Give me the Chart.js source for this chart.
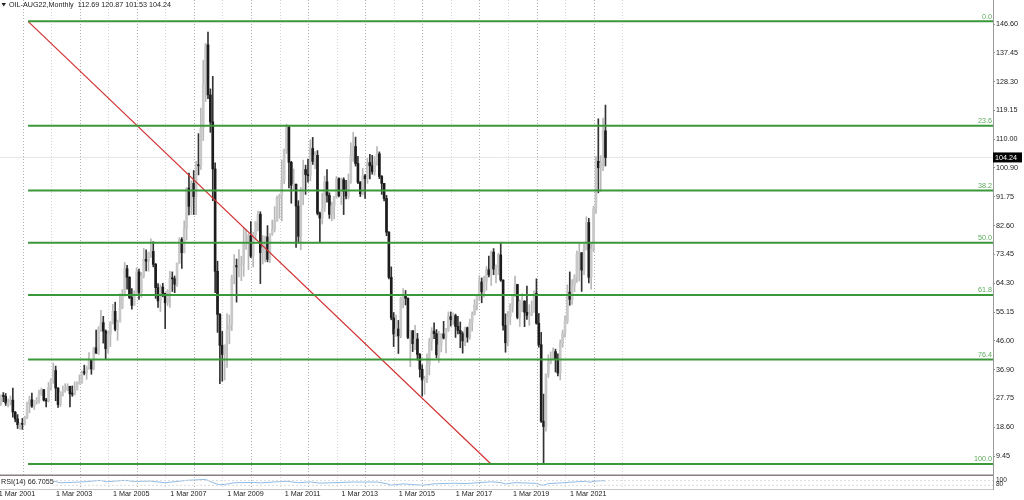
<!DOCTYPE html>
<html>
<head>
<meta charset="utf-8">
<title>OIL-AUG22, Monthly</title>
<script src="https://cdn.jsdelivr.net/npm/chart.js@4.4.1/dist/chart.umd.min.js"></script>
<style>
  html, body { margin: 0; padding: 0; background: #ffffff; }
  #wrap { position: relative; width: 1024px; height: 500px; }
</style>
</head>
<body>
<div id="wrap"><canvas id="oilChart" width="1024" height="500"></canvas></div>
<script>
// Monthly bars, first bar = Apr 2001, last bar = Jun 2022
var opens = [
  26.3, 28.5, 28.4, 26.3, 26.4, 27.2, 23.4, 21.2, 19.4,                       // 2001
  19.8, 19.5, 21.7, 26.3, 27.3, 25.3, 26.9, 27.0, 29.0, 30.5, 27.2, 26.9,       // 2002
  31.2, 33.5, 36.6, 31.0, 25.8, 29.6, 30.2, 30.5, 31.6, 29.2, 29.1, 30.4,       // 2003
  32.5, 33.1, 36.2, 35.8, 37.4, 39.9, 37.1, 43.8, 42.1, 49.6, 51.8, 49.1,       // 2004
  43.5, 48.2, 51.8, 55.4, 49.7, 52.0, 56.5, 60.6, 68.9, 66.2, 59.8, 57.3,       // 2005
  61.0, 67.9, 61.4, 66.6, 71.9, 71.3, 73.9, 74.4, 70.3, 62.9, 58.7, 63.1,       // 2006
  61.1, 58.1, 61.8, 65.9, 65.7, 64.0, 70.7, 78.2, 74.0, 81.7, 94.5, 88.7,       // 2007
  96.0, 91.8, 101.8, 101.6, 113.5, 127.4, 140.0, 124.1, 115.5, 100.6, 68.1, 54.4, // 2008
  44.6, 41.7, 44.8, 49.7, 51.1, 66.3, 69.9, 69.5, 70.0, 70.6, 77.0, 77.3,       // 2009
  79.4, 72.9, 79.7, 83.8, 86.2, 74.0, 75.6, 79.0, 71.9, 80.0, 81.4, 84.1,       // 2010
  91.4, 92.2, 97.0, 106.7, 113.9, 102.7, 95.4, 95.7, 88.8, 79.2, 93.2, 100.4,   // 2011
  98.8, 98.5, 107.1, 103.0, 104.9, 86.5, 85.0, 88.1, 96.5, 92.2, 86.2, 88.9,    // 2012
  91.8, 97.5, 92.1, 97.2, 93.5, 92.0, 96.6, 105.0, 107.7, 102.3, 96.4, 92.7,    // 2013
  98.4, 97.5, 102.6, 101.6, 99.7, 102.7, 105.4, 98.2, 96.0, 91.2, 80.5, 66.2,   // 2014
  53.3, 48.2, 49.8, 47.6, 59.6, 60.3, 59.5, 47.1, 49.2, 45.1, 46.6, 41.7,       // 2015
  37.0, 33.6, 33.8, 38.3, 45.9, 49.1, 48.3, 41.6, 44.7, 48.2, 46.9, 49.4,       // 2016
  53.7, 52.8, 54.0, 50.6, 49.3, 48.3, 46.0, 50.2, 47.2, 51.7, 54.4, 57.4,       // 2017
  60.4, 64.7, 61.6, 64.9, 68.6, 67.0, 74.2, 68.8, 69.8, 73.3, 65.3, 50.9,       // 2018
  45.4, 53.8, 57.2, 60.1, 63.9, 53.5, 58.5, 58.6, 55.1, 54.1, 54.2, 55.2,       // 2019
  61.1, 51.6, 44.8, 20.5, 18.8, 35.5, 39.3, 40.3, 42.6, 40.2, 35.8, 45.3,       // 2020
  48.5, 52.2, 61.5, 59.2, 63.6, 66.3, 73.5, 74.0, 68.5, 75.0, 83.6, 66.2,       // 2021
  75.2, 88.0, 103.0, 101.0, 110.0, 112.69                                      // 2022
];
var highs = [
  28.9, 29.6, 29.3, 27.6, 28.5, 31.0, 23.6, 22.6, 20.0,
  21.4, 22.1, 26.6, 28.4, 29.4, 27.0, 28.0, 30.4, 31.0, 30.6, 27.8, 32.8,
  34.0, 39.0, 38.0, 31.2, 29.8, 31.7, 32.4, 32.4, 31.6, 31.7, 33.0, 33.0,
  35.2, 36.5, 38.3, 38.0, 42.3, 40.0, 44.0, 49.4, 50.5, 55.7, 53.8, 49.5,
  49.1, 52.1, 57.6, 58.3, 52.6, 60.9, 62.3, 70.9, 70.0, 66.4, 62.6, 61.9,
  69.2, 68.8, 67.7, 75.4, 74.9, 74.2, 78.4, 77.5, 70.6, 64.2, 63.8, 64.3,
  61.2, 62.3, 68.1, 67.9, 66.6, 70.7, 78.8, 78.8, 84.1, 94.7, 99.3, 96.8,
  100.1, 103.0, 111.8, 119.9, 135.1, 140.4, 144.0, 126.0, 130.0, 102.5, 71.3, 54.7,
  49.0, 43.8, 54.7, 54.2, 66.9, 73.4, 72.0, 75.0, 72.9, 82.0, 81.5, 80.0,
  83.9, 80.5, 83.9, 87.2, 87.0, 79.4, 79.3, 82.6, 80.0, 84.4, 88.6, 92.0,
  92.6, 103.4, 106.9, 114.8, 114.2, 103.0, 100.6, 95.9, 90.5, 94.7, 103.4, 101.8,
  103.7, 109.8, 110.6, 106.1, 106.4, 86.9, 92.9, 98.3, 100.4, 93.0, 90.1, 91.9,
  98.2, 97.8, 97.7, 97.8, 97.0, 99.0, 108.9, 112.2, 110.7, 104.6, 96.6, 100.8,
  98.9, 104.0, 105.2, 104.9, 104.5, 107.7, 106.0, 98.5, 96.0, 92.2, 80.7, 69.5,
  55.0, 54.2, 52.5, 59.9, 62.6, 62.0, 59.7, 49.3, 49.3, 50.9, 48.4, 42.0,
  38.4, 34.8, 41.9, 46.8, 50.2, 51.7, 49.6, 49.0, 48.4, 52.2, 50.0, 55.2,
  55.2, 54.9, 54.5, 53.8, 52.0, 48.9, 50.4, 50.4, 52.9, 55.2, 59.1, 60.5,
  66.7, 66.0, 66.6, 69.6, 72.9, 74.5, 75.3, 70.1, 73.8, 76.9, 65.4, 54.6,
  55.4, 57.8, 60.7, 66.6, 64.0, 59.0, 60.9, 58.8, 63.4, 57.5, 58.7, 61.9,
  65.7, 54.7, 48.7, 29.1, 35.5, 41.6, 42.5, 43.8, 43.4, 41.9, 46.3, 49.4,
  53.9, 63.8, 67.9, 65.5, 67.0, 74.5, 76.9, 74.0, 76.7, 85.4, 84.9, 76.9,
  88.8, 104.5, 116.5, 104.8, 116.7, 120.87
];
var lows = [
  25.5, 26.7, 25.5, 25.0, 25.6, 21.8, 20.3, 18.2, 17.9,
  17.9, 19.3, 21.3, 23.2, 24.9, 24.2, 25.9, 26.2, 28.7, 26.9, 25.0, 26.6,
  30.4, 32.5, 27.0, 24.9, 25.2, 28.5, 29.7, 30.2, 25.0, 28.4, 28.8, 30.4,
  32.2, 32.5, 35.2, 33.8, 37.0, 35.4, 36.8, 42.0, 41.6, 49.0, 45.3, 40.3,
  42.1, 44.2, 51.4, 49.2, 46.2, 52.0, 56.2, 60.2, 62.4, 59.4, 56.1, 57.3,
  61.0, 59.2, 59.8, 66.0, 68.2, 68.1, 72.5, 69.5, 59.5, 56.6, 55.3, 60.0,
  49.9, 57.2, 56.6, 61.7, 61.3, 63.3, 70.6, 69.0, 73.9, 78.0, 86.0, 86.1,
  86.1, 86.1, 98.7, 100.4, 109.6, 122.0, 122.9, 112.2, 90.5, 61.3, 48.7, 32.4,
  33.2, 33.6, 37.6, 45.1, 49.3, 64.1, 58.3, 66.3, 65.1, 66.5, 75.0, 68.6,
  72.4, 69.5, 78.0, 80.9, 64.2, 70.4, 71.1, 71.1, 70.8, 79.5, 80.6, 83.9,
  84.9, 84.1, 95.9, 105.5, 94.6, 89.7, 93.9, 75.7, 77.1, 74.9, 89.2, 92.5,
  96.4, 96.8, 102.0, 100.7, 86.0, 77.3, 83.1, 87.1, 90.0, 84.9, 84.1, 84.7,
  91.3, 91.7, 89.3, 86.1, 91.1, 91.1, 96.0, 103.0, 101.5, 95.9, 91.8, 92.3,
  91.2, 96.0, 97.4, 98.9, 98.6, 101.8, 97.5, 92.5, 90.4, 79.4, 65.7, 52.7,
  44.2, 47.4, 42.0, 47.0, 56.5, 57.4, 46.7, 37.8, 42.6, 43.2, 39.9, 34.5,
  28.5, 29.0, 32.7, 35.2, 43.0, 46.7, 40.6, 39.2, 42.5, 46.6, 42.2, 49.0,
  50.7, 51.2, 47.1, 48.2, 43.8, 42.1, 44.5, 45.6, 46.5, 49.1, 54.2, 55.8,
  59.1, 58.1, 59.9, 62.1, 66.3, 63.6, 67.0, 64.4, 67.0, 64.9, 49.4, 42.4,
  44.4, 51.2, 55.1, 60.0, 53.0, 50.6, 55.3, 50.5, 52.8, 50.9, 54.0, 55.0,
  51.3, 44.0, 20.1, 6.9, 17.3, 34.4, 38.7, 40.0, 36.1, 34.9, 33.6, 44.0,
  47.2, 51.5, 57.3, 57.6, 61.6, 64.6, 65.0, 61.7, 67.0, 74.9, 64.4, 62.4,
  74.3, 86.5, 93.0, 93.5, 100.0, 101.53
];
var closes = [
  28.5, 28.4, 26.3, 26.4, 27.2, 23.4, 21.2, 19.4, 19.8,
  19.5, 21.7, 26.3, 27.3, 25.3, 26.9, 27.0, 29.0, 30.5, 27.2, 26.9, 31.2,
  33.5, 36.6, 31.0, 25.8, 29.6, 30.2, 30.5, 31.6, 29.2, 29.1, 30.4, 32.5,
  33.1, 36.2, 35.8, 37.4, 39.9, 37.1, 43.8, 42.1, 49.6, 51.8, 49.1, 43.5,
  48.2, 51.8, 55.4, 49.7, 52.0, 56.5, 60.6, 68.9, 66.2, 59.8, 57.3, 61.0,
  67.9, 61.4, 66.6, 71.9, 71.3, 73.9, 74.4, 70.3, 62.9, 58.7, 63.1, 61.1,
  58.1, 61.8, 65.9, 65.7, 64.0, 70.7, 78.2, 74.0, 81.7, 94.5, 88.7, 96.0,
  91.8, 101.8, 101.6, 113.5, 127.4, 140.0, 124.1, 115.5, 100.6, 68.1, 54.4, 44.6,
  41.7, 44.8, 49.7, 51.1, 66.3, 69.9, 69.5, 70.0, 70.6, 77.0, 77.3, 79.4,
  72.9, 79.7, 83.8, 86.2, 74.0, 75.6, 79.0, 71.9, 80.0, 81.4, 84.1, 91.4,
  92.2, 97.0, 106.7, 113.9, 102.7, 95.4, 95.7, 88.8, 79.2, 93.2, 100.4, 98.8,
  98.5, 107.1, 103.0, 104.9, 86.5, 85.0, 88.1, 96.5, 92.2, 86.2, 88.9, 91.8,
  97.5, 92.1, 97.2, 93.5, 92.0, 96.6, 105.0, 107.7, 102.3, 96.4, 92.7, 98.4,
  97.5, 102.6, 101.6, 99.7, 102.7, 105.4, 98.2, 96.0, 91.2, 80.5, 66.2, 53.3,
  48.2, 49.8, 47.6, 59.6, 60.3, 59.5, 47.1, 49.2, 45.1, 46.6, 41.7, 37.0,
  33.6, 33.8, 38.3, 45.9, 49.1, 48.3, 41.6, 44.7, 48.2, 46.9, 49.4, 53.7,
  52.8, 54.0, 50.6, 49.3, 48.3, 46.0, 50.2, 47.2, 51.7, 54.4, 57.4, 60.4,
  64.7, 61.6, 64.9, 68.6, 67.0, 74.2, 68.8, 69.8, 73.3, 65.3, 50.9, 45.4,
  53.8, 57.2, 60.1, 63.9, 53.5, 58.5, 58.6, 55.1, 54.1, 54.2, 55.2, 61.1,
  51.6, 44.8, 20.5, 18.8, 35.5, 39.3, 40.3, 42.6, 40.2, 35.8, 45.3, 48.5,
  52.2, 61.5, 59.2, 63.6, 66.3, 73.5, 74.0, 68.5, 75.0, 83.6, 66.2, 75.2,
  88.0, 103.0, 101.0, 102.5, 112.6, 104.24
];

var rsiBars   = [14, 18, 22, 25, 30, 36, 42, 44, 52, 56, 63, 69, 78, 86, 90, 92, 94, 98, 106, 109,
                 116, 120, 125, 130, 134, 148, 158, 162, 164, 169, 177, 182, 190, 196, 206, 210, 212, 216,
                 225, 227, 228, 230, 236, 242, 246, 247, 250, 253, 254];
var rsiValues = [56, 55, 66, 52, 55, 62, 72, 60, 72, 63, 66, 52, 72, 80, 45, 36, 38, 52, 55, 51,
                 60, 65, 52, 59, 49, 58, 58, 45, 32, 43, 31, 43, 48, 46, 60, 53, 42, 53,
                 47, 33, 32, 45, 52, 60, 65, 56, 66, 70, 66.7];
var rsiLevels = [70, 30];

var priceTicks = [9.45, 18.60, 27.75, 36.90, 46.00, 55.15, 64.30, 73.45, 82.60, 91.75,
                  100.90, 110.00, 119.15, 128.30, 137.45, 146.60];
var dateLabels = ['1 Mar 2001', '1 Mar 2003', '1 Mar 2005', '1 Mar 2007', '1 Mar 2009', '1 Mar 2011',
                  '1 Mar 2013', '1 Mar 2015', '1 Mar 2017', '1 Mar 2019', '1 Mar 2021'];

// fibonacci retracement object
var fibLevels = [0.0, 23.6, 38.2, 50.0, 61.8, 76.4, 100.0];
var fibHigh = 147.45;
var fibLow = 6.9;
var fibFromBar = 11.4;
var fibToBar = 205.9;

var titleText = 'OIL-AUG22,Monthly  112.69 120.87 101.53 104.24';
var rsiText = 'RSI(14) 66.7055';

// geometry of the terminal window
var barPx = 2.38;
var plotRight = 993;
var xMin = -0.395;
var xMax = xMin + plotRight / barPx;
var firstGridBar = 9.27;
var gridCount = 22;
var yMax = 154.22;
var yMin = -1.02;
var rsiMax = 4075;   // puts 0..100 in the bottom 12px strip

var smallFont = { family: 'Liberation Sans', size: 7.2 };
var green = '#3a973a';

function isBull(i)
{
  return closes[i] >= opens[i];
}

// chart.js likes to pad axes for their end labels, the terminal does not
function noPadding(scale)
{
  scale.paddingTop = 0;
  scale.paddingBottom = 0;
  scale.paddingLeft = 0;
  scale.paddingRight = 0;
}

var wickData = [];
var bodyData = [];
for (var i = 0; i < closes.length; i++)
{
  wickData.push({ x: i, y: [lows[i], highs[i]] });
  bodyData.push({ x: i, y: [opens[i], closes[i]] });
}

var gridBars = [];
for (var k = 0; k < gridCount; k++)
{
  gridBars.push(firstGridBar + 12 * k);
}

var datasets = [];

// fib levels and the diagonal
fibLevels.forEach(function(level) {
  var price = fibHigh - level / 100 * (fibHigh - fibLow);
  datasets.push({
    type: 'line', order: 0,
    data: [{ x: fibFromBar, y: price }, { x: xMax, y: price }],
    borderColor: green, borderWidth: 2, pointRadius: 0
  });
});
datasets.push({
  type: 'line', order: 0,
  data: [{ x: fibFromBar, y: fibHigh }, { x: fibToBar, y: fibLow }],
  borderColor: '#d23232', borderWidth: 1.2, pointRadius: 0
});

// candles
datasets.push({
  type: 'bar', order: 1, grouped: false,
  data: bodyData,
  barThickness: 2, minBarLength: 1, borderWidth: 0,
  backgroundColor: function(c) { return isBull(c.dataIndex) ? '#c8c8c8' : '#1c1c1c'; }
});
datasets.push({
  type: 'bar', order: 2, grouped: false,
  data: wickData,
  barThickness: 1, borderWidth: 0,
  backgroundColor: function(c) { return isBull(c.dataIndex) ? '#b8b8b8' : '#333333'; }
});

// rsi window
rsiLevels.forEach(function(lv) {
  datasets.push({
    type: 'line', order: 3, yAxisID: 'rsi',
    data: [{ x: xMin, y: lv }, { x: xMax, y: lv }],
    borderColor: '#dcdcdc', borderWidth: 1, borderDash: [2, 2], pointRadius: 0
  });
});
datasets.push({
  type: 'line', order: 3, yAxisID: 'rsi',
  data: rsiBars.map(function(b, j) { return { x: b, y: rsiValues[j] }; }),
  borderColor: '#8fbbe3', borderWidth: 1, pointRadius: 0, tension: 0
});

// last price line
datasets.push({
  type: 'line', order: 4,
  data: [{ x: xMin, y: closes[closes.length - 1] }, { x: xMax, y: closes[closes.length - 1] }],
  borderColor: '#e6e6e6', borderWidth: 1, pointRadius: 0
});

var overlay = {
  id: 'overlay',
  afterDraw: function(chart)
  {
    var ctx = chart.ctx;
    var area = chart.chartArea;
    var yScale = chart.scales.y;
    ctx.save();
    ctx.font = '7.2px "Liberation Sans"';

    // sub window separator
    ctx.fillStyle = '#8a8080';
    ctx.fillRect(0, area.bottom - 14.5, area.right, 1.5);

    // fib level captions
    ctx.fillStyle = '#5aa85a';
    ctx.textAlign = 'right';
    ctx.textBaseline = 'bottom';
    fibLevels.forEach(function(level) {
      var price = fibHigh - level / 100 * (fibHigh - fibLow);
      ctx.fillText(level.toFixed(1), area.right - 1, yScale.getPixelForValue(price) - 1);
    });

    // last price tag
    var last = closes[closes.length - 1];
    var py = yScale.getPixelForValue(last);
    ctx.fillStyle = '#000000';
    ctx.fillRect(area.right, py - 5, 29, 10);
    ctx.fillStyle = '#ffffff';
    ctx.textAlign = 'left';
    ctx.textBaseline = 'middle';
    ctx.fillText(last.toFixed(2), area.right + 2, py + 0.5);

    // title with the little triangle
    ctx.fillStyle = '#222222';
    ctx.beginPath();
    ctx.moveTo(1.5, 3);
    ctx.lineTo(6, 3);
    ctx.lineTo(3.75, 6.5);
    ctx.closePath();
    ctx.fill();
    ctx.fillText(titleText, 9, 5);

    // rsi caption
    ctx.fillStyle = '#ffffff';
    ctx.fillRect(0, area.bottom - 12, 53, 10);
    ctx.fillStyle = '#222222';
    ctx.fillText(rsiText, 1, area.bottom - 6.5);

    // rsi scale labels (they overlap in the terminal too)
    ctx.font = '6.5px "Liberation Sans"';
    ctx.fillText('100', area.right + 3, area.bottom - 9);
    ctx.fillText('80', area.right + 3, area.bottom - 5);
    ctx.restore();
  }
};

var oilChart = new Chart(document.getElementById('oilChart'), {
  type: 'bar',
  data: { datasets: datasets },
  plugins: [overlay],
  options: {
    responsive: false,
    animation: false,
    devicePixelRatio: 1,
    layout: { padding: 0 },
    plugins: { legend: { display: false }, tooltip: { enabled: false } },
    scales: {
      x: {
        type: 'linear', min: xMin, max: xMax, offset: false,
        afterBuildTicks: function(scale) { scale.ticks = gridBars.map(function(v) { return { value: v }; }); },
        afterFit: function(scale) { scale.height = 11; noPadding(scale); },
        grid: {
          offset: false, drawTicks: false, lineWidth: 1,
          color: function(c) { return c.index % 2 === 0 ? '#b0b0b0' : '#d4d4d4'; }
        },
        border: { display: true, color: '#c8c8c8', dash: [1, 2] },
        ticks: {
          autoSkip: false, maxRotation: 0, padding: 1, labelOffset: -6,
          font: smallFont, color: '#1a1a1a',
          callback: function(v, idx) { return idx % 2 === 0 ? dateLabels[idx / 2] : ''; }
        }
      },
      y: {
        position: 'right', min: yMin, max: yMax,
        afterBuildTicks: function(scale) { scale.ticks = priceTicks.map(function(v) { return { value: v }; }); },
        afterFit: function(scale) { scale.width = 31; noPadding(scale); },
        grid: { drawOnChartArea: false, drawTicks: true, tickLength: 2, color: '#8c8c8c' },
        border: { display: true, color: '#9a9a9a' },
        ticks: {
          padding: 1, font: smallFont, color: '#1a1a1a',
          callback: function(v) { return v.toFixed(2); }
        }
      },
      rsi: { position: 'right', display: false, min: 0, max: rsiMax }
    }
  }
});
</script>
</body>
</html>
